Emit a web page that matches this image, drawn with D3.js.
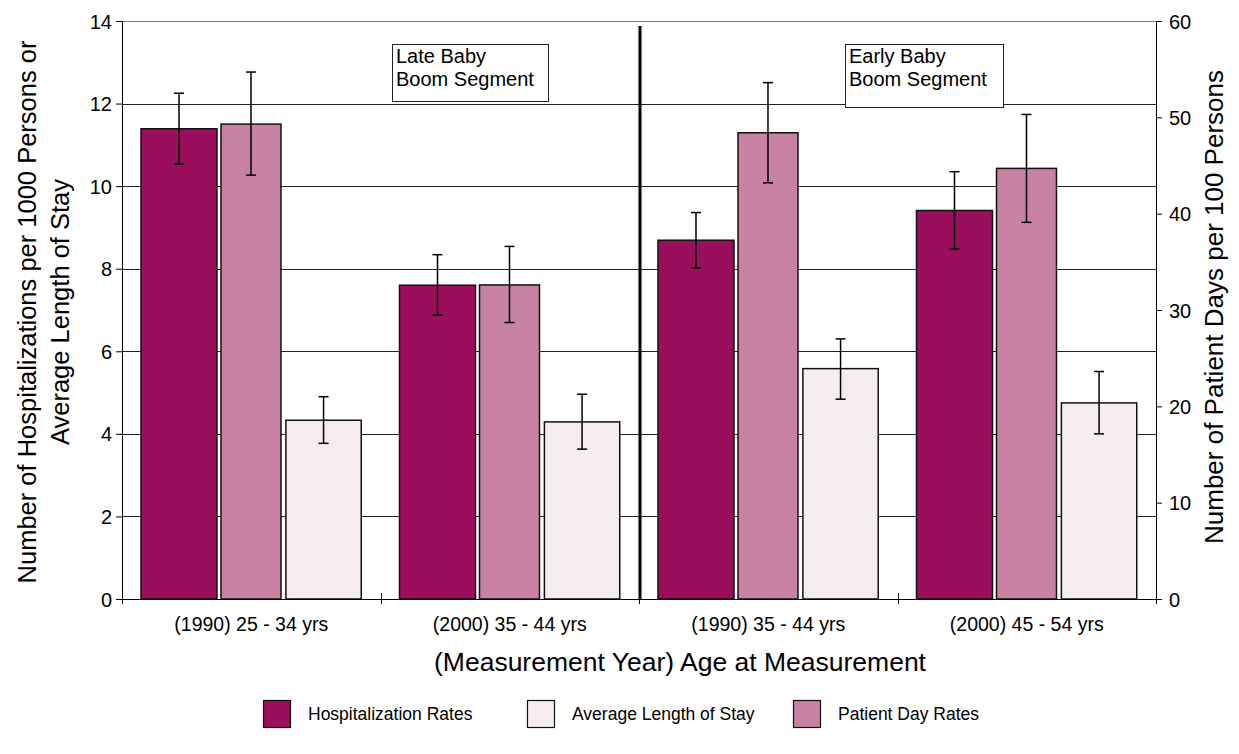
<!DOCTYPE html>
<html>
<head>
<meta charset="utf-8">
<script src="https://cdn.jsdelivr.net/npm/d3@7/dist/d3.min.js"></script>
<style>
  html, body { margin: 0; padding: 0; background: #fff; }
  svg text { font-family: "Liberation Sans", Arial, Helvetica, sans-serif; fill: #000; }
</style>
</head>
<body>
<svg id="chart" width="1239" height="754"></svg>
<script>
// ---- data ----
const categories = ["(1990) 25 - 34 yrs", "(2000) 35 - 44 yrs", "(1990) 35 - 44 yrs", "(2000) 45 - 54 yrs"];
const seriesNames = ["Hospitalization Rates", "Patient Day Rates", "Average Length of Stay"];
const hospRates   = [11.39, 7.60, 8.69, 9.41];
const hospLow     = [10.53, 6.88, 8.02, 8.48];
const hospHigh    = [12.25, 8.34, 9.36, 10.35];
const patientDays = [49.3, 32.6, 48.4, 44.7];   // right axis
const patientLow  = [44.0, 28.7, 43.2, 39.1];
const patientHigh = [54.7, 36.6, 53.6, 50.3];
const alos        = [4.33, 4.29, 5.58, 4.75];
const alosLow     = [3.77, 3.63, 4.84, 4.00];
const alosHigh    = [4.90, 4.96, 6.30, 5.51];
const leftTicks   = [0, 2, 4, 6, 8, 10, 12, 14];
const rightTicks  = [0, 10, 20, 30, 40, 50, 60];
const segmentLabels = [["Late Baby", "Boom Segment"], ["Early Baby", "Boom Segment"]];
const legendOrder = ["Hospitalization Rates", "Average Length of Stay", "Patient Day Rates"];

// ---- layout / style ----
const colors = {
  "Hospitalization Rates": "#9b0e5c",
  "Patient Day Rates": "#c882a3",
  "Average Length of Stay": "#f5ecef"
};
const plot = { left: 122, right: 1156, top: 21, bottom: 599 };
// position of each series inside a category band (fractions of band)
const subLayout = {
  "Hospitalization Rates": { start: 0.0735, end: 0.3675 },
  "Patient Day Rates": { start: 0.383, end: 0.615 },
  "Average Length of Stay": { start: 0.634, end: 0.9255 }
};

const svg = d3.select("#chart");
const font = '"Liberation Sans", Arial, Helvetica, sans-serif';

const x = d3.scaleBand().domain(categories).range([plot.left, plot.right]).paddingInner(0).paddingOuter(0);
const yL = d3.scaleLinear().domain([0, 14]).range([plot.bottom, plot.top]);
const yR = d3.scaleLinear().domain([0, 60]).range([plot.bottom, plot.top]);
const inner = d3.scaleLinear().domain([0, 1]).range([0, x.bandwidth()]);

// gridlines
svg.append("g").selectAll("line").data(leftTicks.filter(d => d > 0)).join("line")
  .attr("x1", plot.left).attr("x2", plot.right)
  .attr("y1", d => Math.round(yL(d)) + 0.5).attr("y2", d => Math.round(yL(d)) + 0.5)
  .attr("stroke", d => d === 14 ? "#777" : "#222").attr("stroke-width", 1);

// series records
const series = [
  { name: "Hospitalization Rates", vals: hospRates, lo: hospLow, hi: hospHigh, y: yL },
  { name: "Patient Day Rates", vals: patientDays, lo: patientLow, hi: patientHigh, y: yR },
  { name: "Average Length of Stay", vals: alos, lo: alosLow, hi: alosHigh, y: yL }
];

const barsG = svg.append("g");
series.forEach(s => {
  const L = subLayout[s.name];
  const recs = categories.map((c, i) => ({ c, v: s.vals[i], lo: s.lo[i], hi: s.hi[i] }));
  barsG.selectAll(null).data(recs).join("rect")
    .attr("x", d => x(d.c) + inner(L.start))
    .attr("width", inner(L.end - L.start))
    .attr("y", d => s.y(d.v))
    .attr("height", d => s.y(0) - s.y(d.v))
    .attr("fill", colors[s.name])
    .attr("stroke", "#111").attr("stroke-width", 1.5);
  // error bars
  const cx = d => x(d.c) + inner((L.start + L.end) / 2);
  const eg = barsG.append("g").attr("stroke", "#000").attr("stroke-width", 1.5);
  eg.selectAll(null).data(recs).join("line")
    .attr("x1", cx).attr("x2", cx).attr("y1", d => s.y(d.lo)).attr("y2", d => s.y(d.hi));
  eg.selectAll(null).data(recs).join("line")
    .attr("x1", d => cx(d) - 5).attr("x2", d => cx(d) + 5).attr("y1", d => s.y(d.lo)).attr("y2", d => s.y(d.lo));
  eg.selectAll(null).data(recs).join("line")
    .attr("x1", d => cx(d) - 5).attr("x2", d => cx(d) + 5).attr("y1", d => s.y(d.hi)).attr("y2", d => s.y(d.hi));
});

// divider between segments
const divX = x(categories[2]) + 1;
svg.append("line").attr("x1", divX).attr("x2", divX).attr("y1", 26).attr("y2", plot.bottom)
  .attr("stroke", "#000").attr("stroke-width", 3);

// left axis
const axL = svg.append("g").attr("transform", `translate(${plot.left},0)`)
  .call(d3.axisLeft(yL).tickValues(leftTicks).tickSize(6).tickPadding(4).tickFormat(d3.format("d")));
axL.select(".domain").attr("d", `M0.5,${plot.top}V${plot.bottom + 5}`).attr("stroke", "#000");
axL.selectAll("text").attr("font-size", 20).attr("font-family", font).attr("dy", "0.35em");

// right axis
const axR = svg.append("g").attr("transform", `translate(${plot.right},0)`)
  .call(d3.axisRight(yR).tickValues(rightTicks).tickSize(6).tickPadding(7).tickFormat(d3.format("d")));
axR.select(".domain").attr("d", `M0.5,${plot.top}V${plot.bottom + 5}`).attr("stroke", "#000");
axR.selectAll("text").attr("font-size", 20).attr("font-family", font).attr("dy", "0.35em");

// bottom axis
const axB = svg.append("g").attr("transform", `translate(0,${plot.bottom})`)
  .call(d3.axisBottom(x).tickSize(0).tickPadding(18));
axB.select(".domain").attr("d", `M${plot.left},0.5H${plot.right}`).attr("stroke", "#000");
axB.selectAll("text").attr("font-size", 19.5).attr("font-family", font);
// boundary ticks
const bounds = categories.map(c => x(c)).concat([plot.right]);
axB.selectAll(".bt").data(bounds).join("line").attr("class", "bt")
  .attr("x1", d => Math.round(d) + 0.5).attr("x2", d => Math.round(d) + 0.5)
  .attr("y1", -6).attr("y2", 5).attr("stroke", "#000");

// axis titles
svg.append("text").attr("x", 680).attr("y", 671)
  .attr("text-anchor", "middle").attr("font-size", 26.5).text("(Measurement Year) Age at Measurement");
const lt = svg.append("text").attr("transform", "translate(0,312) rotate(-90)")
  .attr("text-anchor", "middle").attr("font-size", 25.5);
lt.append("tspan").attr("x", 0).attr("y", 36).text("Number of Hospitalizations per 1000 Persons or");
lt.append("tspan").attr("x", 0).attr("y", 69).text("Average Length of Stay");
svg.append("text").attr("transform", "translate(1223,307) rotate(-90)")
  .attr("text-anchor", "middle").attr("font-size", 26).text("Number of Patient Days per 100 Persons");

// segment annotation boxes
const boxes = [
  { label: segmentLabels[0], x0: 392, x1: 548, y0: 44, y1: 101 },
  { label: segmentLabels[1], x0: 845, x1: 1003, y0: 44, y1: 107 }
];
boxes.forEach(b => {
  svg.append("rect").attr("x", b.x0 + 0.5).attr("y", b.y0 + 0.5).attr("width", b.x1 - b.x0).attr("height", b.y1 - b.y0)
    .attr("fill", "#fff").attr("stroke", "#222").attr("stroke-width", 1);
  b.label.forEach((t, i) => svg.append("text").attr("x", b.x0 + 4).attr("y", b.y0 + 19 + i * 23)
    .attr("font-size", 20).text(t));
});

// legend
const legX = [263, 527, 793];
const lg = svg.append("g");
legendOrder.forEach((n, i) => {
  lg.append("rect").attr("x", legX[i] + 0.5).attr("y", 700.5).attr("width", 27).attr("height", 27)
    .attr("fill", colors[n]).attr("stroke", "#111").attr("stroke-width", 1.2);
  lg.append("text").attr("x", legX[i] + 45).attr("y", 720).attr("font-size", 17.5).text(n);
});
</script>
</body>
</html>
